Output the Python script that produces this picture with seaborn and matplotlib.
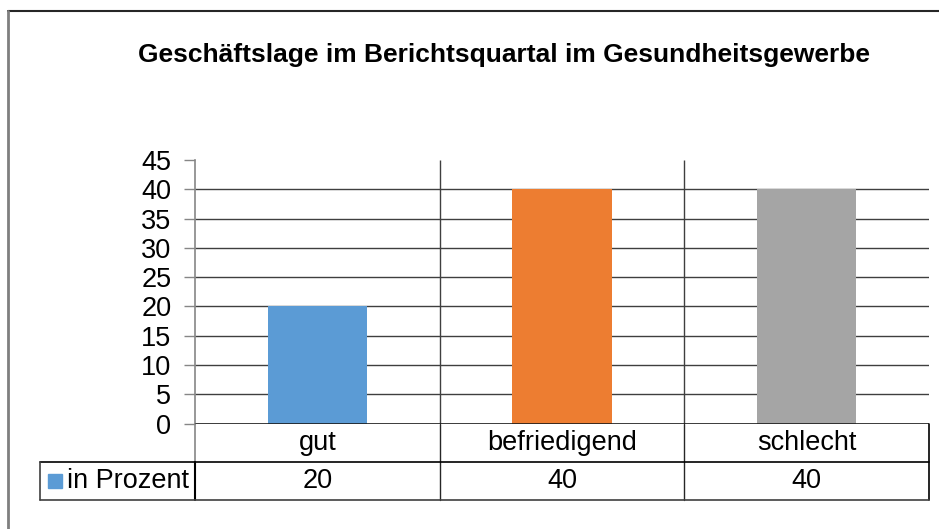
import matplotlib
matplotlib.use('Agg')
import matplotlib.pyplot as plt
import seaborn as sns
from matplotlib.lines import Line2D
from matplotlib.patches import Rectangle

# --------------------------
# DATA
# --------------------------
categories = ['gut', 'befriedigend', 'schlecht']
values = [20, 40, 40]
series_name = 'in Prozent'
colors = ['#5B9BD5', '#ED7D31', '#A5A5A5']
y_ticks = list(range(0, 50, 5))
title = 'Geschäftslage im Berichtsquartal im Gesundheitsgewerbe'

sns.set_theme(style='white')
plt.rcParams['font.family'] = ['Liberation Sans', 'DejaVu Sans']
plt.rcParams['text.color'] = 'black'
plt.rcParams['ytick.labelcolor'] = 'black'

W, H = 939, 529
fig = plt.figure(figsize=(W / 100, H / 100), dpi=100)

def fx(px):
    return px / W

def fy(py):
    return 1 - py / H

# outer chart frame (only top and left visible)
fig.add_artist(Line2D([fx(8), fx(939)], [fy(11), fy(11)], color='#262626', lw=1.5))
fig.add_artist(Line2D([fx(7.5), fx(7.5)], [fy(11), fy(529)], color='#7f7f7f', lw=2))

fig.text(fx(504), fy(55), title, ha='center', va='center', fontsize=19, fontweight='bold')

# plot area
x0, x1 = 195, 929
ytop, ybot = 160, 423.5
ax = fig.add_axes([fx(x0), fy(ybot), fx(x1 - x0), (ybot - ytop) / H])

sns.barplot(x=categories, y=values, hue=categories, palette=colors, width=0.405,
            legend=False, saturation=1, linewidth=0, ax=ax, zorder=3)
ax.set_xlim(-0.5, 2.5)
ax.set_ylim(0, 45)
ax.set_yticks(y_ticks)
ax.set_yticklabels([str(t) for t in y_ticks], fontsize=19.5, color='black')
ax.set_xticks([])
ax.set_xlabel('')
ax.set_ylabel('')
for s in ['top', 'right', 'bottom']:
    ax.spines[s].set_visible(False)
ax.spines['left'].set_color('#868686')
ax.spines['left'].set_linewidth(1.2)
ax.tick_params(axis='y', left=True, direction='out', length=8, width=1,
               color='#868686', pad=9)

# horizontal gridlines (none at the top)
ax.hlines(y_ticks[1:-1], -0.5, 2.5, color='#3f3f3f', lw=1, zorder=1)
ax.axhline(0, color='#1a1a1a', lw=1.2, zorder=4)
# category separators
ax.vlines([0.5, 1.5], 0, 45, color='#3f3f3f', lw=1, zorder=1)

# --------------------------
# DATA TABLE
# --------------------------
tab_left = 40
row1_bot, row2_bot = 462, 500
unit = (x1 - x0) / 3
tax = fig.add_axes([fx(tab_left), fy(row2_bot), fx(x1 - tab_left), (row2_bot - ybot) / H])
xl = -0.5 - (x0 - tab_left) / unit
tax.set_xlim(xl, 2.5)
tax.set_ylim(0, 2)
tax.axis('off')

tax.plot([-0.5, -0.5], [1, 2], color='#868686', lw=1.2, clip_on=False)
tax.plot([-0.5, -0.5], [0, 1], color='black', lw=1.5, clip_on=False)
for xv in [0.5, 1.5]:
    tax.plot([xv, xv], [0, 2], color='#262626', lw=1, clip_on=False)
tax.plot([2.5, 2.5], [0, 2], color='black', lw=1.2, clip_on=False)
tax.plot([xl, 2.5], [1, 1], color='black', lw=1.2, clip_on=False)
tax.plot([xl, 2.5], [0, 0], color='#404040', lw=1.2, clip_on=False)
tax.plot([xl, xl], [0, 1], color='#404040', lw=1.2, clip_on=False)

for i, (cat, val) in enumerate(zip(categories, values)):
    tax.text(i, 1.5, cat, ha='center', va='center', fontsize=19.5)
    tax.text(i, 0.5, str(val), ha='center', va='center', fontsize=19.5)

# legend key + series name
rh = row2_bot - row1_bot
tax.add_patch(Rectangle((xl + 8 / unit, 0.5 - 7 / rh), 14 / unit, 14 / rh,
                        color=colors[0], clip_on=False))
tax.text(xl + 27 / unit, 0.5, series_name, ha='left', va='center', fontsize=19.5)

plt.savefig('out.png', dpi=100)
plt.close(fig)
